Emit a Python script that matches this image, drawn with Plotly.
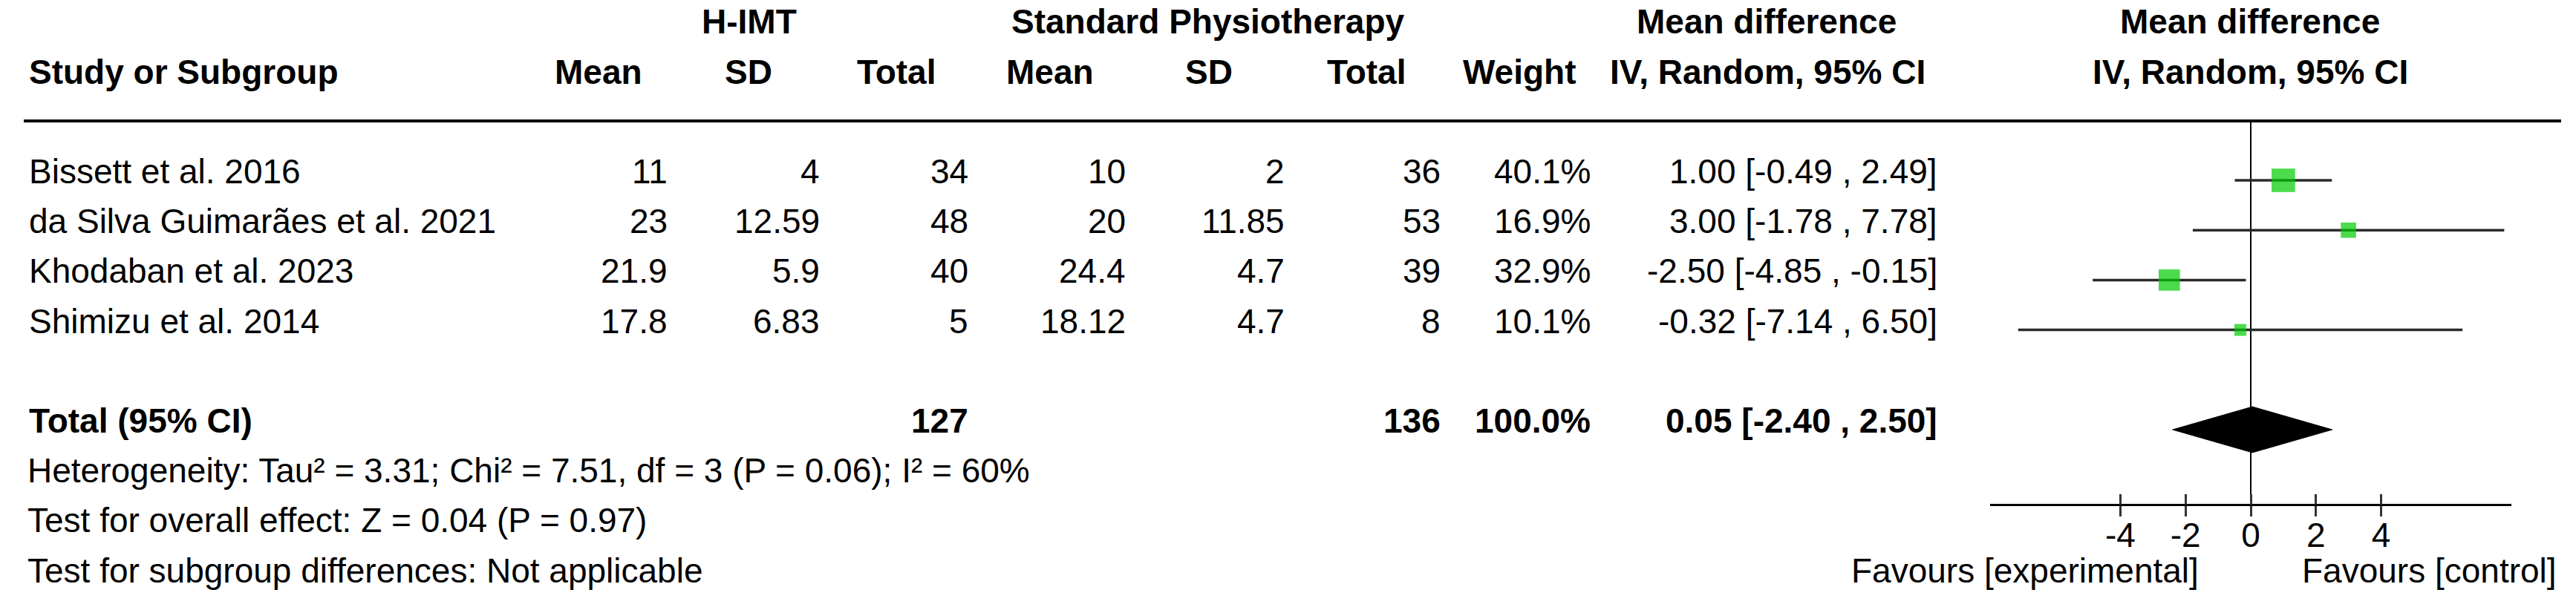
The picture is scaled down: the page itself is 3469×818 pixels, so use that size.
import math
import plotly.graph_objects as go

# ---------------- data ----------------
studies = ["Bissett et al. 2016", "da Silva Guimarães et al. 2021",
           "Khodaban et al. 2023", "Shimizu et al. 2014"]
exp_mean = [11, 23, 21.9, 17.8]
exp_sd = [4, 12.59, 5.9, 6.83]
exp_total = [34, 48, 40, 5]
ctl_mean = [10, 20, 24.4, 18.12]
ctl_sd = [2, 11.85, 4.7, 4.7]
ctl_total = [36, 53, 39, 8]
weights = [40.1, 16.9, 32.9, 10.1]
md = [1.00, 3.00, -2.50, -0.32]
ci_lo = [-0.49, -1.78, -4.85, -7.14]
ci_hi = [2.49, 7.78, -0.15, 6.50]

total_exp = 127
total_ctl = 136
total_weight = 100.0
total_md = 0.05
total_lo = -2.40
total_hi = 2.50

heterogeneity = "Heterogeneity: Tau² = 3.31; Chi² = 7.51, df = 3 (P = 0.06); I² = 60%"
overall = "Test for overall effect: Z = 0.04 (P = 0.97)"
subgroup = "Test for subgroup differences: Not applicable"

tick_vals = [-4, -2, 0, 2, 4]
tick_text = ["-4", "-2", "0", "2", "4"]
axis_range = [-8, 8]

# ---------------- layout constants ----------------
W, H = 3469, 818
FONT = "Liberation Sans, Arial, sans-serif"
FS = 46
ROW0_PX = 243.0
ROW_PX = 67.2
y_top = -ROW0_PX / ROW_PX
y_bot = (H - ROW0_PX) / ROW_PX
TXT_OFF = -0.18

def px(xp):
    return xp / W

fig = go.Figure()

# CI lines
for i in range(len(studies)):
    fig.add_trace(go.Scatter(x=[ci_lo[i], ci_hi[i]], y=[i, i], mode="lines",
                             line=dict(color="#2a2a2a", width=3.5),
                             hoverinfo="skip", showlegend=False))
# squares
fig.add_trace(go.Scatter(x=md, y=list(range(len(studies))), mode="markers",
                         marker=dict(symbol="square", color="#00CC00",
                                     size=[5 * math.sqrt(w) for w in weights],
                                     line=dict(width=0)),
                         hoverinfo="skip", showlegend=False))
# diamond
total_row = len(studies) + 1
dh = 0.46
fig.add_trace(go.Scatter(x=[total_lo, total_md, total_hi, total_md, total_lo],
                         y=[total_row, total_row - dh, total_row, total_row + dh, total_row],
                         mode="lines", fill="toself", fillcolor="black",
                         line=dict(color="black", width=1),
                         hoverinfo="skip", showlegend=False))

axis_row = 6.5
sep_row = -1.19
# zero line
fig.add_shape(type="line", xref="x", yref="y", x0=0, x1=0, y0=sep_row, y1=axis_row,
              line=dict(color="black", width=2), layer="below")
# separator
fig.add_shape(type="line", xref="paper", yref="y", x0=px(32), x1=px(3449),
              y0=sep_row, y1=sep_row, line=dict(color="black", width=4))

ann = []
def add(text, xp, row, anchor="center", bold=False):
    t = f"<b>{text}</b>" if bold else text
    ann.append(dict(text=t, x=px(xp), y=row + TXT_OFF, xref="paper", yref="y",
                    xanchor=anchor, yanchor="middle", showarrow=False,
                    font=dict(family=FONT, size=FS, color="black")))

# headers
add("H-IMT", 1009, -3, bold=True)
add("Standard Physiotherapy", 1627, -3, bold=True)
add("Mean difference", 2379, -3, bold=True)
add("Mean difference", 3030, -3, bold=True)
add("Study or Subgroup", 37, -2, "left", bold=True)
add("Mean", 806, -2, bold=True)
add("SD", 1008, -2, bold=True)
add("Total", 1207, -2, bold=True)
add("Mean", 1414, -2, bold=True)
add("SD", 1628, -2, bold=True)
add("Total", 1840, -2, bold=True)
add("Weight", 2046, -2, bold=True)
add("IV, Random, 95% CI", 2380, -2, bold=True)
add("IV, Random, 95% CI", 3030, -2, bold=True)

for i, s in enumerate(studies):
    add(s, 37, i, "left")
    add(f"{exp_mean[i]:g}", 901, i, "right")
    add(f"{exp_sd[i]:g}", 1106, i, "right")
    add(f"{exp_total[i]}", 1306, i, "right")
    add(f"{ctl_mean[i]:g}", 1518, i, "right")
    add(f"{ctl_sd[i]:g}", 1732, i, "right")
    add(f"{ctl_total[i]}", 1942, i, "right")
    add(f"{weights[i]:.1f}%", 2144, i, "right")
    add(f"{md[i]:.2f} [{ci_lo[i]:.2f} , {ci_hi[i]:.2f}]", 2611, i, "right")

add("Total (95% CI)", 37, total_row, "left", bold=True)
add(f"{total_exp}", 1306, total_row, "right", bold=True)
add(f"{total_ctl}", 1942, total_row, "right", bold=True)
add(f"{total_weight:.1f}%", 2144, total_row, "right", bold=True)
add(f"{total_md:.2f} [{total_lo:.2f} , {total_hi:.2f}]", 2611, total_row, "right", bold=True)

add(heterogeneity, 35, 6, "left")
add(overall, 35, 7, "left")
add(subgroup, 35, 8, "left")
add("Favours [experimental]", 2727, 8.0)
add("Favours [control]", 3271, 8.0)

axis_pos = 1 - (ROW0_PX + axis_row * ROW_PX) / H
xdom = [px(2680), px(3382)]
fig.update_layout(
    width=W, height=H, margin=dict(l=0, r=0, t=0, b=0),
    paper_bgcolor="white", plot_bgcolor="rgba(0,0,0,0)",
    showlegend=False, annotations=ann,
    xaxis=dict(domain=xdom, range=axis_range, anchor="free", position=axis_pos,
               showline=True, linecolor="black", linewidth=3,
               ticks="outside", ticklen=14, tickwidth=3, tickcolor="#333",
               tickvals=tick_vals, ticktext=tick_text, showgrid=False, zeroline=False,
               tickfont=dict(family=FONT, size=FS, color="black"),
               ticklabelstandoff=-14, fixedrange=True),
    xaxis2=dict(domain=xdom, range=axis_range, matches="x", overlaying="x",
                anchor="free", position=axis_pos, showline=False,
                ticks="inside", ticklen=14, tickwidth=3, tickcolor="#333",
                tickvals=tick_vals, showticklabels=False, showgrid=False, zeroline=False),
    yaxis=dict(domain=[0, 1], range=[y_bot, y_top], visible=False, fixedrange=True),
)
# invisible trace so that the overlay axis (inner tick halves) is drawn
fig.add_trace(go.Scatter(x=[0], y=[0], xaxis="x2", mode="markers",
                         marker=dict(opacity=0), hoverinfo="skip", showlegend=False))

fig.write_html("out.html", config={"displayModeBar": False},
               post_script="document.body.style.margin='0';document.body.style.overflow='hidden';")
